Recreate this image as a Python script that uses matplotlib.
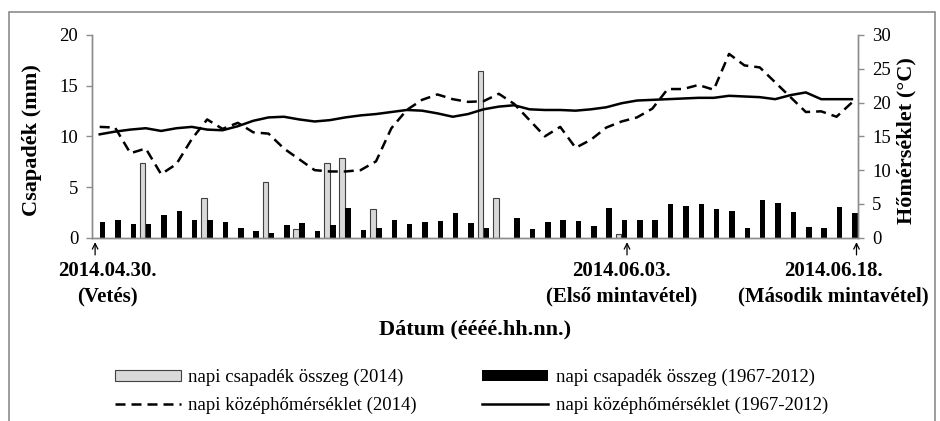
import numpy as np
import matplotlib
matplotlib.use('Agg')
import matplotlib.pyplot as plt
from matplotlib.patches import Rectangle, Patch
from matplotlib.lines import Line2D

plt.rcParams['font.family'] = ['Liberation Serif', 'DejaVu Serif']

# napok: 2014.04.30. - 2014.06.18. (50 nap)
days = np.arange(50)

# napi csapadek osszeg 2014 (mm), 0 = nem volt
rain_2014 = [0, 0, 0, 7.4, 0, 0, 0, 3.9, 0, 0, 0, 5.5,
             0, 0.9, 0, 7.4, 7.9, 0, 2.8, 0, 0, 0, 0, 0,
             0, 16.4, 3.9, 0, 0, 0, 0, 0, 0, 0, 0.4, 0,
             0, 0, 0, 0, 0, 0, 0, 0, 0, 0, 0, 0, 0, 0]

# napi csapadek osszeg 1967-2012 (mm)
rain_mean = [1.58, 1.75, 1.32, 1.32, 2.24, 2.63, 1.71, 1.71, 1.58, 0.92,
             0.69, 0.43, 1.25, 1.42, 0.69, 1.25, 2.9, 0.8, 0.92, 1.75,
             1.32, 1.58, 1.68, 2.4, 1.48, 0.92, 0, 1.98, 0.83, 1.58,
             1.75, 1.68, 1.18, 2.9, 1.75, 1.75, 1.75, 3.3, 3.13, 3.3,
             2.8, 2.67, 0.92, 3.69, 3.46, 2.5, 1.05, 0.95, 3.03, 2.4]

# napi kozephomerseklet 2014 (C)
temp_2014 = [16.4, 16.3, 12.5, 13.2, 9.4, 10.9, 14.6, 17.5, 16.1, 17.0,
             15.6, 15.4, 13.2, 11.6, 10.0, 9.8, 9.8, 10.0, 11.3, 16.2,
             18.9, 20.4, 21.2, 20.5, 20.1, 20.2, 21.3, 19.8, 17.4, 15.0,
             16.4, 13.3, 14.5, 16.3, 17.2, 17.8, 19.1, 22.0, 22.0, 22.6,
             21.9, 27.2, 25.5, 25.2, 23.0, 20.8, 18.6, 18.7, 17.9, 20.0]

# napi kozephomerseklet 1967-2012 (C)
temp_mean = [15.3, 15.7, 16.0, 16.2, 15.8, 16.2, 16.4, 16.0, 15.9, 16.5,
             17.3, 17.8, 17.9, 17.5, 17.2, 17.4, 17.8, 18.1, 18.3, 18.6,
             18.9, 18.8, 18.4, 17.9, 18.3, 19.0, 19.4, 19.6, 19.0, 18.9,
             18.9, 18.8, 19.0, 19.3, 19.9, 20.3, 20.4, 20.5, 20.6, 20.7,
             20.7, 21.0, 20.9, 20.8, 20.5, 21.1, 21.5, 20.5, 20.5, 20.5]

marks = [(-0.3, 0.48, '2014.04.30.\n(Vetés)'),
         (34.35, 34.0, '2014.06.03.\n(Első mintavétel)'),
         (49.3, 47.8, '2014.06.18.\n(Második mintavétel)')]

fig = plt.figure(figsize=(9.4, 4.21), dpi=100)
ax = fig.add_axes([0.0979, 0.4354, 0.8149, 0.4815])
ax2 = ax.twinx()

rain_2014_m = np.ma.masked_equal(np.array(rain_2014), 0)
ax.bar(days - 0.2, rain_2014_m, width=0.36, color='#d9d9d9',
       edgecolor='#404040', linewidth=0.8, zorder=2)
ax.bar(days + 0.19, rain_mean, width=0.36, color='black', zorder=2)

ax2.plot(days, temp_2014, color='black', lw=1.8, linestyle=(0, (4, 2.4)))
ax2.plot(days, temp_mean, color='black', lw=1.8)

ax.set_xlim(-0.5, 49.4)
ax.set_ylim(0, 20)
ax.set_yticks([0, 5, 10, 15, 20])
ax2.set_ylim(0, 30)
ax2.set_yticks([0, 5, 10, 15, 20, 25, 30])
ax.set_xticks([])

for a in (ax, ax2):
    a.spines['top'].set_visible(False)
    for s in ('left', 'right', 'bottom'):
        a.spines[s].set_color('#8c8c8c')
        a.spines[s].set_linewidth(1.0)
    a.tick_params(axis='y', direction='out', length=4, width=1,
                  color='#8c8c8c', labelsize=13.5, pad=6)

# datum jelolok
trans = ax.get_xaxis_transform()
for xa, xt, txt in marks:
    ax.annotate('', xy=(xa, -0.022), xycoords=trans, xytext=(xa, -0.085),
                textcoords=trans,
                arrowprops=dict(arrowstyle='->', lw=0.9, color='black',
                                shrinkA=0, shrinkB=0))
    ax.text(xt, -0.115, txt, transform=trans, ha='center', va='top',
            fontsize=15, fontweight='bold', linespacing=1.35)

fig.text(0.034, 0.667, 'Csapadék (mm)', rotation=90, ha='center',
         va='center', fontsize=16, fontweight='bold')
fig.text(0.964, 0.667, 'Hőmérséklet (°C)', rotation=90, ha='center',
         va='center', fontsize=16, fontweight='bold')
fig.text(0.505, 0.218, 'Dátum (éééé.hh.nn.)', ha='center', va='center',
         fontsize=16, fontweight='bold')

handles = [Patch(facecolor='#d9d9d9', edgecolor='#404040', linewidth=0.8),
           Line2D([], [], color='black', lw=1.8, linestyle=(0, (4, 2.4))),
           Patch(facecolor='black'),
           Line2D([], [], color='black', lw=1.8)]
labels = ['napi csapadék összeg (2014)',
          'napi középhőmérséklet (2014)',
          'napi csapadék összeg (1967-2012)',
          'napi középhőmérséklet (1967-2012)']
fig.legend(handles, labels, ncol=2, loc='upper left',
           bbox_to_anchor=(115 / 940, 1 - 369 / 421), frameon=False,
           fontsize=13.5, handlelength=3.5, handleheight=0.55,
           handletextpad=0.4, columnspacing=3.5, labelspacing=0.56,
           borderpad=0, borderaxespad=0)

fig.patches.append(Rectangle((9 / 940, -0.1), 926 / 940, 1.1 - 12 / 421,
                             transform=fig.transFigure, fill=False,
                             edgecolor='#8c8c8c', linewidth=1.2))

fig.savefig('out.png', dpi=100)
